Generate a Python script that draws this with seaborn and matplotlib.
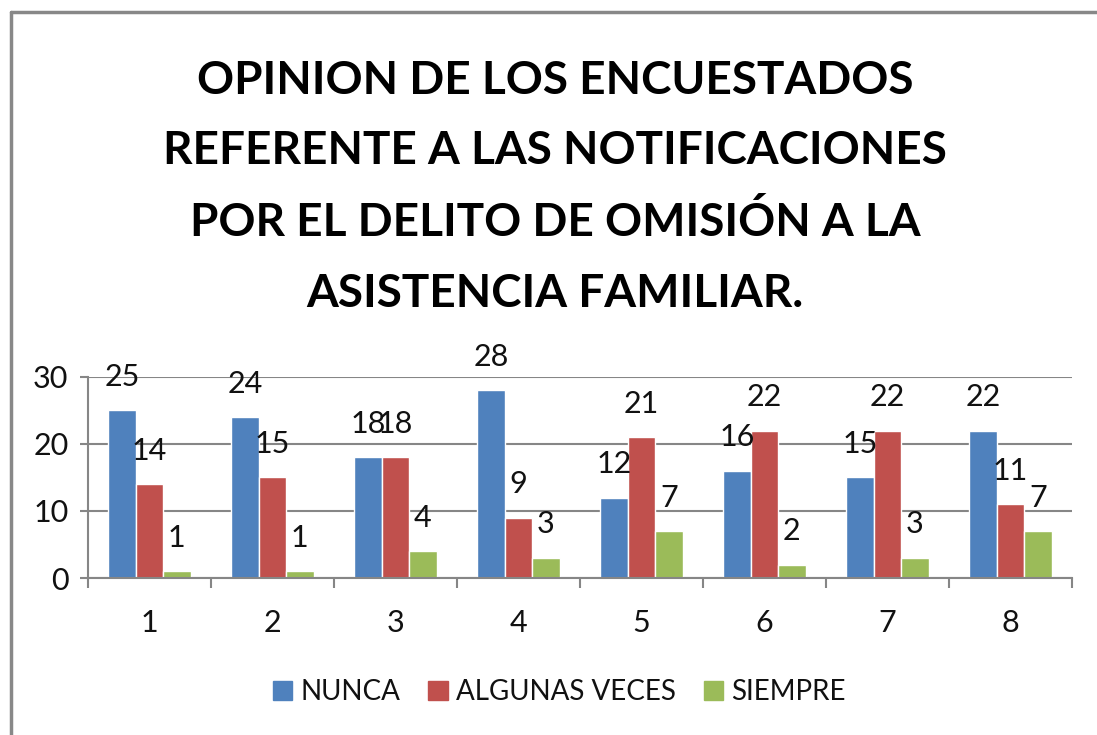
import pandas as pd
import matplotlib.pyplot as plt
import seaborn as sns
from matplotlib.lines import Line2D

# Chart data
categories = ["1", "2", "3", "4", "5", "6", "7", "8"]
nunca = [25, 24, 18, 28, 12, 16, 15, 22]
algunas_veces = [14, 15, 18, 9, 21, 22, 22, 11]
siempre = [1, 1, 4, 3, 7, 2, 3, 7]
series_names = ["NUNCA", "ALGUNAS VECES", "SIEMPRE"]
colors = ["#4F81BD", "#C0504D", "#9BBB59"]

title = ("OPINION DE LOS ENCUESTADOS\n"
         "REFERENTE A LAS NOTIFICACIONES\n"
         "POR EL DELITO DE OMISIÓN A LA\n"
         "ASISTENCIA FAMILIAR.")

df = pd.DataFrame({
    "categoria": categories * 3,
    "serie": [series_names[0]] * 8 + [series_names[1]] * 8 + [series_names[2]] * 8,
    "valor": nunca + algunas_veces + siempre,
})

sns.set_style("white")
plt.rcParams['font.family'] = ['Lato', 'DejaVu Sans']

fig = plt.figure(figsize=(10.97, 7.35), dpi=100)
ax = fig.add_axes([0.0802, 0.2136, 0.897, 0.2735])

sns.barplot(data=df, x="categoria", y="valor", hue="serie", palette=colors,
            width=0.667, ax=ax, legend=False, saturation=1)

for cont in ax.containers:
    ax.bar_label(cont, padding=14, fontsize=22, color="#111111")

grid_col = "#868686"
ax.set_ylim(0, 30)
ax.set_xlim(-0.5, 7.5)
ax.set_yticks([0, 10, 20, 30])
ax.yaxis.grid(True, color=grid_col, linewidth=1.5)
ax.set_axisbelow(True)
for s in ["top", "right"]:
    ax.spines[s].set_visible(False)
for s in ["left", "bottom"]:
    ax.spines[s].set_color(grid_col)
    ax.spines[s].set_linewidth(1.5)
ax.set_xlabel("")
ax.set_ylabel("")

ax.tick_params(axis="y", left=True, length=6, width=1.5, color=grid_col,
               labelsize=22, pad=8, labelcolor="#111111")
ax.set_xticks([i - 0.5 for i in range(9)], minor=True)
ax.tick_params(axis="x", which="minor", bottom=True, length=7, width=1.5, color=grid_col)
ax.tick_params(axis="x", which="major", bottom=False, length=0, labelsize=22, pad=22,
               labelcolor="#111111")

fig.text(0.506, 0.745, title, ha="center", va="center", fontsize=33,
         fontweight="bold", linespacing=1.83, color="black")

handles = [plt.Rectangle((0, 0), 1, 1, color=c) for c in colors]
fig.legend(handles, series_names, loc="center", bbox_to_anchor=(0.51, 0.0585),
           ncol=3, frameon=False, fontsize=20, handlelength=0.7, handleheight=0.7,
           handletextpad=0.3, columnspacing=1.0, labelcolor="#111111")

# outer chart frame (left and top edges visible)
fig.add_artist(Line2D([0.0100, 0.0100], [0, 0.9837], transform=fig.transFigure,
                      color="#888888", linewidth=2.5))
fig.add_artist(Line2D([0.0100, 1.0], [0.9837, 0.9837], transform=fig.transFigure,
                      color="#888888", linewidth=2.5))

fig.savefig("out.png", dpi=100)
